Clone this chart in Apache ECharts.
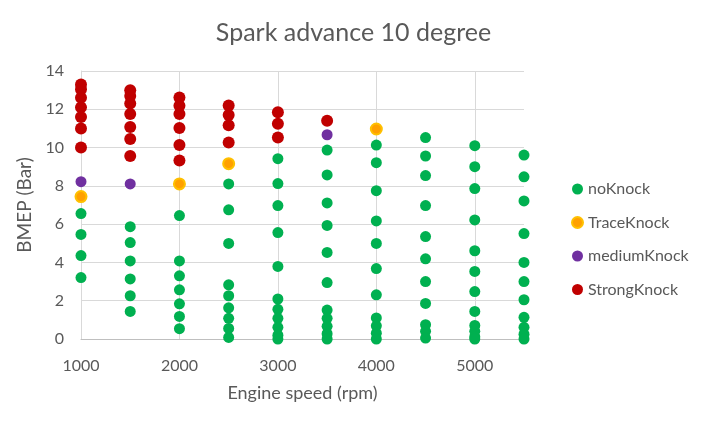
<!DOCTYPE html>
<html>
<head>
<meta charset="utf-8">
<script src="https://cdn.jsdelivr.net/npm/echarts@6/dist/echarts.min.js"></script>
<style>html,body{margin:0;padding:0;background:#fff}#c{width:707px;height:424px}</style>
</head>
<body>
<div id="c"></div>
<script>
const xTicks = [1000, 2000, 3000, 4000, 5000];
const yTicks = [0, 2, 4, 6, 8, 10, 12, 14];

const noKnockSpeed = [
  1000,1000,1000,1000,
  1500,1500,1500,1500,1500,1500,
  2000,2000,2000,2000,2000,2000,2000,
  2500,2500,2500,2500,2500,2500,2500,2500,2500,
  3000,3000,3000,3000,3000,3000,3000,3000,3000,3000,3000,
  3500,3500,3500,3500,3500,3500,3500,3500,3500,3500,3500,
  4000,4000,4000,4000,4000,4000,4000,4000,4000,4000,4000,
  4500,4500,4500,4500,4500,4500,4500,4500,4500,4500,4500,
  5000,5000,5000,5000,5000,5000,5000,5000,5000,5000,5000,5000,
  5500,5500,5500,5500,5500,5500,5500,5500,5500,5500,5500
];
const noKnockBmep = [
  6.55,5.46,4.36,3.21,
  5.87,5.04,4.08,3.14,2.26,1.44,
  6.45,4.08,3.30,2.57,1.84,1.18,0.54,
  8.1,6.75,4.99,2.83,2.26,1.63,1.08,0.55,0.08,
  9.42,8.12,6.97,5.56,3.79,2.09,1.55,1.08,0.61,0.2,0.0,
  9.87,8.57,7.11,5.93,4.52,2.95,1.51,1.08,0.66,0.28,0.0,
  10.13,9.21,7.75,6.17,4.99,3.68,2.31,1.1,0.69,0.3,0.0,
  10.52,9.56,8.54,6.97,5.35,4.19,3.0,1.86,0.75,0.4,0.05,
  10.1,9.0,7.86,6.22,4.61,3.53,2.48,1.44,0.71,0.4,0.12,0.0,
  9.61,8.47,7.21,5.51,4.0,3.0,2.05,1.13,0.61,0.25,0.0
];
const traceSpeed = [1000, 2000, 2500, 4000];
const traceBmep = [7.44, 8.1, 9.16, 10.97];
const mediumSpeed = [1000, 1500, 3500];
const mediumBmep = [8.22, 8.1, 10.67];
const strongSpeed = [
  1000,1000,1000,1000,1000,1000,1000,
  1500,1500,1500,1500,1500,1500,1500,
  2000,2000,2000,2000,2000,2000,
  2500,2500,2500,2500,
  3000,3000,3000,
  3500
];
const strongBmep = [
  13.3,13.05,12.6,12.1,11.6,11.0,10.0,
  13.0,12.7,12.3,11.75,11.07,10.45,9.56,
  12.62,12.19,11.75,11.02,10.13,9.32,
  12.2,11.7,11.16,10.26,
  11.84,11.25,10.52,
  11.4
];

function pairs(xs, ys) { return xs.map((x, i) => [x, ys[i]]); }

const font = 'Lato, "Open Sans", sans-serif';
const txt = '#595959';
const chart = echarts.init(document.getElementById('c'));
chart.setOption({
  animation: false,
  backgroundColor: '#fff',
  textStyle: { fontFamily: font },
  title: {
    text: 'Spark advance 10 degree',
    left: 'center', top: 15,
    textStyle: { fontFamily: font, fontSize: 25, fontWeight: 'normal', color: txt }
  },
  legend: {
    orient: 'vertical', left: 566, top: 176, itemGap: 17.5,
    icon: 'circle', itemWidth: 11, itemHeight: 11,
    textStyle: { fontFamily: font, fontSize: 16, color: txt },
    data: ['noKnock', 'TraceKnock', 'mediumKnock', 'StrongKnock']
  },
  grid: { left: 81, right: 183, top: 71, bottom: 85, containLabel: false },
  xAxis: {
    type: 'value', min: 1000, max: 5500, interval: 1000,
    name: 'Engine speed (rpm)', nameLocation: 'middle', nameGap: 45,
    nameTextStyle: { fontFamily: font, fontSize: 18, color: txt },
    axisLine: { show: true, lineStyle: { color: '#bfbfbf', width: 1 } },
    axisTick: { show: false },
    axisLabel: {
      fontFamily: font, fontSize: 16, color: txt, margin: 19, showMaxLabel: false,
      formatter: v => (xTicks.indexOf(v) >= 0 ? String(v) : '')
    },
    splitLine: { show: true, lineStyle: { color: ['#d9d9d9','#d9d9d9','#d9d9d9','#d9d9d9','#d9d9d9','rgba(0,0,0,0)'], width: 1 } }
  },
  yAxis: {
    type: 'value', min: 0, max: 14, interval: 2,
    name: 'BMEP (Bar)', nameLocation: 'middle', nameGap: 39, nameRotate: 90,
    nameTextStyle: { fontFamily: font, fontSize: 19, color: txt },
    axisLine: { show: true, lineStyle: { color: '#d9d9d9', width: 1 } },
    axisTick: { show: false },
    axisLabel: {
      fontFamily: font, fontSize: 16, color: txt, margin: 17,
      formatter: v => (yTicks.indexOf(v) >= 0 ? String(v) : '')
    },
    splitLine: { show: true, lineStyle: { color: '#d9d9d9', width: 1 } }
  },
  series: [
    { name: 'noKnock', type: 'scatter', symbolSize: 11, data: pairs(noKnockSpeed, noKnockBmep),
      itemStyle: { color: '#00B050', opacity: 1 } },
    { name: 'TraceKnock', type: 'scatter', symbolSize: 11, data: pairs(traceSpeed, traceBmep),
      itemStyle: { color: '#FFA000', borderColor: '#FFC000', borderWidth: 2, opacity: 1 } },
    { name: 'mediumKnock', type: 'scatter', symbolSize: 11, data: pairs(mediumSpeed, mediumBmep),
      itemStyle: { color: '#7030A0', opacity: 1 } },
    { name: 'StrongKnock', type: 'scatter', symbolSize: 12, data: pairs(strongSpeed, strongBmep),
      itemStyle: { color: '#C00000', opacity: 1 } }
  ]
});
</script>
</body>
</html>
